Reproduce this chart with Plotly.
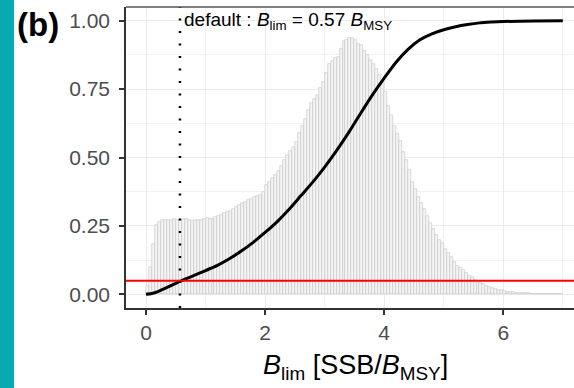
import numpy as np
import plotly.graph_objects as go

# ---- data ----
bin_width = 0.05
hist_heights = [
    0.03, 0.10, 0.185, 0.255, 0.265, 0.27, 0.272, 0.273, 0.27, 0.274,
    0.272, 0.27, 0.276, 0.274, 0.27, 0.268, 0.27, 0.272, 0.272, 0.274,
    0.278, 0.276, 0.275, 0.283, 0.285, 0.29, 0.296, 0.30, 0.306, 0.31,
    0.318, 0.328, 0.333, 0.338, 0.344, 0.35, 0.355, 0.358, 0.362, 0.375,
    0.398, 0.41, 0.425, 0.436, 0.45, 0.468, 0.49, 0.51, 0.525, 0.538,
    0.555, 0.59, 0.615, 0.64, 0.675, 0.70, 0.715, 0.73, 0.755, 0.775,
    0.81, 0.84, 0.852, 0.862, 0.868, 0.895, 0.925, 0.93, 0.935, 0.938,
    0.93, 0.915, 0.91, 0.89, 0.875, 0.855, 0.84, 0.825, 0.80, 0.775,
    0.74, 0.69, 0.655, 0.615, 0.585, 0.56, 0.52, 0.49, 0.455, 0.41,
    0.385, 0.355, 0.335, 0.31, 0.285, 0.26, 0.24, 0.215, 0.198, 0.186,
    0.165, 0.15, 0.135, 0.118, 0.104, 0.095, 0.088, 0.078, 0.068, 0.062,
    0.054, 0.047, 0.043, 0.038, 0.031, 0.027, 0.023, 0.02, 0.016, 0.014,
    0.012, 0.01, 0.009, 0.008, 0.006, 0.006, 0.005, 0.004, 0.004, 0.003,
    0.003, 0.003, 0.002, 0.002, 0.002, 0.002, 0.002, 0.002, 0.002, 0.002,
]
bin_centers = [round(bin_width * (i + 0.5), 3) for i in range(len(hist_heights))]

curve_x = [0.0, 0.1, 0.2, 0.3, 0.4, 0.57, 0.8, 1.0, 1.2, 1.4, 1.6, 1.8, 2.0,
           2.2, 2.4, 2.6, 2.8, 3.0, 3.2, 3.4, 3.6, 3.8, 4.0, 4.2, 4.4, 4.6,
           4.8, 5.0, 5.2, 5.4, 5.6, 5.8, 6.0, 6.5, 7.0]
curve_y = [0.0, 0.003, 0.01, 0.02, 0.03, 0.047, 0.068, 0.087, 0.106, 0.13,
           0.158, 0.19, 0.226, 0.265, 0.31, 0.36, 0.41, 0.465, 0.525, 0.59,
           0.66, 0.728, 0.79, 0.848, 0.895, 0.93, 0.952, 0.967, 0.978, 0.986,
           0.992, 0.995, 0.997, 0.999, 1.0]

b_lim_default = 0.57
threshold = 0.05

x_ticks = [0, 2, 4, 6]
y_ticks = [0.0, 0.25, 0.5, 0.75, 1.0]
y_tick_labels = ["0.00", "0.25", "0.50", "0.75", "1.00"]

# ---- figure ----
W, H = 574, 388
ml, mt, mb, mr = 126, 7, 80, 0

fig = go.Figure()
fig.add_trace(go.Bar(
    x=bin_centers, y=hist_heights, width=bin_width,
    marker=dict(color="#f4f4f4", line=dict(color="#c4c4c4", width=0.6)),
    showlegend=False, hoverinfo="skip",
))
fig.add_trace(go.Scatter(
    x=curve_x, y=curve_y, mode="lines",
    line=dict(color="black", width=3, shape="spline", smoothing=0.8),
    showlegend=False,
))

# red horizontal threshold line
fig.add_shape(type="line", xref="paper", x0=0, x1=1, yref="y", y0=threshold, y1=threshold,
              line=dict(color="#ff0000", width=2))
# dotted vertical default line
fig.add_shape(type="line", xref="x", x0=b_lim_default, x1=b_lim_default, yref="paper", y0=0, y1=1,
              line=dict(color="black", width=2.5, dash="2px,10.5px"))
# top panel border
fig.add_shape(type="line", xref="paper", x0=0, x1=1, yref="paper", y0=1, y1=1,
              line=dict(color="#555555", width=1.3))
# teal stripe
fig.add_shape(type="rect", xref="paper", yref="paper",
              x0=-ml / (W - ml - mr), x1=(14 - ml) / (W - ml - mr),
              y0=-mb / (H - mt - mb), y1=1 + mt / (H - mt - mb),
              fillcolor="#09a9b3", line=dict(width=0), layer="above")

fig.add_annotation(
    x=b_lim_default, y=1.0, xref="x", yref="y", xanchor="left", yanchor="middle",
    text="default : <i>B</i><sub>lim</sub> = 0.57 <i>B</i><sub>MSY</sub>",
    showarrow=False, xshift=3, borderpad=0,
    font=dict(family="Liberation Sans, Arial", size=19, color="black"),
)
fig.add_annotation(
    x=(355 - ml) / (W - ml - mr), y=-(367 - (H - mb)) / (H - mt - mb),
    xref="paper", yref="paper", xanchor="center", yanchor="middle",
    text="<i>B</i><sub>lim</sub> [SSB/<i>B</i><sub>MSY</sub>]",
    showarrow=False, font=dict(family="Liberation Sans, Arial", size=27, color="black"),
)
fig.add_annotation(
    x=(15 - ml) / (W - ml - mr), y=1 + (mt - 24) / (H - mt - mb),
    xref="paper", yref="paper", xanchor="left", yanchor="middle",
    text="<b>(b)</b>", showarrow=False,
    font=dict(family="Liberation Sans, Arial", size=33, color="black"),
)

fig.update_layout(
    width=W, height=H, margin=dict(l=ml, r=mr, t=mt, b=mb),
    paper_bgcolor="white", plot_bgcolor="white", bargap=0,
    font=dict(family="Liberation Sans, Arial", color="#4d4d4d"),
    xaxis=dict(
        range=[-20 / 59.55, 428 / 59.55], tickvals=x_ticks, ticktext=[str(t) for t in x_ticks],
        showgrid=True, gridcolor="#ebebeb", gridwidth=1.3,
        minor=dict(dtick=1, tick0=1, showgrid=True, gridcolor="#f2f2f2", gridwidth=0.7, ticks=""),
        showline=True, linecolor="#333333", linewidth=1.5,
        ticks="outside", ticklen=5, tickwidth=1.5, tickcolor="#333333",
        tickfont=dict(size=21, color="#4d4d4d"), zeroline=False,
    ),
    yaxis=dict(
        range=[-0.05, 1.05], tickvals=y_ticks, ticktext=y_tick_labels,
        showgrid=True, gridcolor="#ebebeb", gridwidth=1.3,
        minor=dict(dtick=0.25, tick0=0.125, showgrid=True, gridcolor="#f2f2f2", gridwidth=0.7, ticks=""),
        showline=True, linecolor="#333333", linewidth=1.5,
        ticks="outside", ticklen=5, tickwidth=1.5, tickcolor="#333333",
        tickfont=dict(size=21, color="#4d4d4d"), zeroline=False, ticklabelstandoff=5,
    ),
)

fig.write_html("out.html")
